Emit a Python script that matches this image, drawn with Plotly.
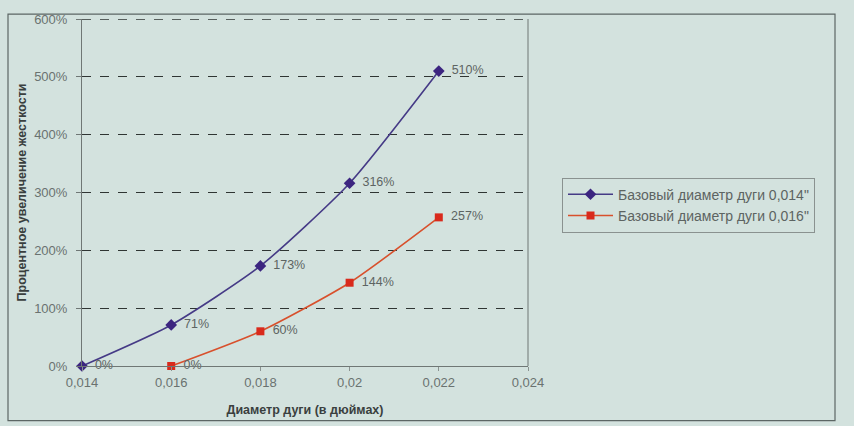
import plotly.graph_objects as go

# Wire diameters (inches) and relative stiffness increase (%)
x_014 = [0.014, 0.016, 0.018, 0.020, 0.022]
y_014 = [0, 71, 173, 316, 510]
x_016 = [0.016, 0.018, 0.020, 0.022]
y_016 = [0, 60, 144, 257]

series_names = ['Базовый диаметр дуги 0,014"', 'Базовый диаметр дуги 0,016"']
x_tick_vals = [0.014, 0.016, 0.018, 0.020, 0.022, 0.024]
x_tick_text = ["0,014", "0,016", "0,018", "0,02", "0,022", "0,024"]
y_tick_vals = [0, 100, 200, 300, 400, 500, 600]
y_tick_text = ["0%", "100%", "200%", "300%", "400%", "500%", "600%"]

bg = "#d3e2de"
label_color = "#5d6462"
grid_color = "#2f3533"
font_family = "Liberation Sans, Arial, sans-serif"

fig = go.Figure()
fig.add_trace(go.Scatter(
    x=x_014, y=y_014, name=series_names[0],
    mode="lines+markers+text",
    line=dict(color="#453a86", width=1.6, shape="spline", smoothing=0.6),
    marker=dict(symbol="diamond", size=9, color="#3c2580"),
    text=[f"\u2002{v}%" for v in y_014], textposition="middle right",
    textfont=dict(color=label_color, size=12.5, family=font_family),
    cliponaxis=False,
))
fig.add_trace(go.Scatter(
    x=x_016, y=y_016, name=series_names[1],
    mode="lines+markers+text",
    line=dict(color="#d8502c", width=1.6, shape="spline", smoothing=0.6),
    marker=dict(symbol="square", size=8, color="#d92a1c"),
    text=[f"\u2002{v}%" for v in y_016], textposition="middle right",
    textfont=dict(color=label_color, size=12.5, family=font_family),
    cliponaxis=False,
))

# Plot area in pixels: left 82, right 528, top 16, bottom 366
L, R, T, B = 82, 528, 16, 366
W, H = 854, 426
def px_x(p):
    return (p - L) / (R - L)
def px_y(p):
    return (B - p) / (B - T)

fig.update_layout(
    width=W, height=H,
    margin=dict(l=L, r=W - R, t=T, b=H - B),
    paper_bgcolor=bg, plot_bgcolor=bg,
    font=dict(family=font_family, color=label_color, size=12),
    showlegend=True,
    legend=dict(
        x=px_x(562), y=px_y(176), xanchor="left", yanchor="top",
        bgcolor="rgba(0,0,0,0)", bordercolor="#8a9290", borderwidth=1,
        font=dict(size=14, color=label_color, family=font_family),
        tracegroupgap=0, itemwidth=45,
    ),
    xaxis=dict(
        range=[0.014, 0.024], tickvals=x_tick_vals, ticktext=x_tick_text,
        showgrid=False, zeroline=False,
        showline=True, linecolor="#6f7775", linewidth=1,
        ticks="outside", ticklen=4, tickcolor="#8a9290",
        tickfont=dict(size=13, color="#6a7270"),
        title=dict(text="<b>Диаметр дуги (в дюймах)</b>",
                   font=dict(size=12.5, color="#3a3f3e"), standoff=16),
    ),
    yaxis=dict(
        range=[0, 600], tickvals=y_tick_vals, ticktext=y_tick_text,
        showgrid=True, gridcolor=grid_color, griddash="dash", gridwidth=1.3,
        zeroline=False,
        showline=True, linecolor="#6f7775", linewidth=1,
        ticks="outside", ticklen=5, tickcolor="#6f7775",
        ticklabelstandoff=6,
        tickfont=dict(size=13, color="#6a7270"),
        title=dict(text="<b>Процентное увеличение жесткости</b>",
                   font=dict(size=12.5, color="#3a3f3e"), standoff=4),
    ),
    shapes=[
        # dashed gridline along the top edge (600%)
        dict(type="line", xref="paper", yref="y", x0=0, x1=1, y0=600, y1=600,
             line=dict(color=grid_color, width=1.3, dash="dash")),
        # right edge of the plot box
        dict(type="line", xref="paper", yref="paper", x0=1, x1=1, y0=0, y1=1,
             line=dict(color="#6f7775", width=1)),
        # outer frame of the figure
        dict(type="rect", xref="paper", yref="paper",
             x0=px_x(8), x1=px_x(835), y0=px_y(421), y1=px_y(11),
             line=dict(color="#5c6664", width=1.2)),
    ],
)

fig.write_html("out.html")
